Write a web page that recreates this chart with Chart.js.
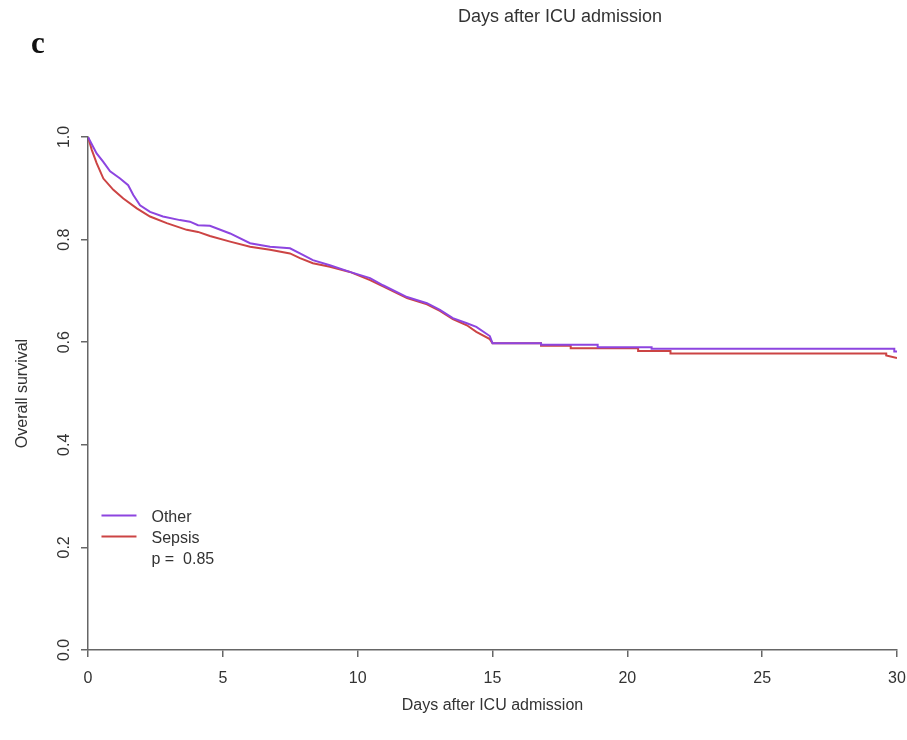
<!DOCTYPE html>
<html lang="en">
<head>
  <meta charset="UTF-8" />
  <title>Overall survival</title>
  <script src="https://cdn.jsdelivr.net/npm/chart.js"></script>
  <style>
    body { margin: 0; background: #fff; }
    #wrap { position: relative; width: 907px; height: 740px; }
    #panel { position: absolute; left: 31px; top: 25px; font: bold 31px "Liberation Serif", serif; color: #111; }
    #topTitle { position: absolute; left: 458px; top: 6px; font: 18px "Liberation Sans", Arial, sans-serif; color: #333; }
    canvas { position: absolute; left: 0; top: 0; }
  </style>
</head>
<body>
<div id="wrap">
  <canvas id="km" width="907" height="740"></canvas>
  <div id="panel">c</div>
  <div id="topTitle">Days after ICU admission</div>
</div>

<script>
  // Kaplan-Meier curves (days, survival)
  const otherDays = [0, 0.32, 0.56, 0.82, 1.19, 1.49, 1.68, 1.93, 2.30, 2.78, 3.41, 3.78, 4.08, 4.52, 5.27, 6.01, 6.75, 7.49, 7.86, 8.34,
    8.97, 9.71, 10.46, 10.94, 11.83, 12.57, 13.05, 13.53, 14.05, 14.4, 14.9, 15.0, 16.8, 16.8, 18.9, 18.9, 20.9, 20.9, 29.9, 29.9, 30];
  const otherSurv = [1.0, 0.968, 0.952, 0.933, 0.919, 0.906, 0.887, 0.867, 0.854, 0.845, 0.838, 0.835, 0.828, 0.827, 0.812, 0.793, 0.786, 0.783, 0.773, 0.760,
    0.750, 0.737, 0.725, 0.711, 0.688, 0.676, 0.663, 0.647, 0.637, 0.630, 0.612, 0.598, 0.598, 0.595, 0.595, 0.590, 0.590, 0.587, 0.587, 0.582, 0.582];

  const sepsisDays = [0, 0.14, 0.32, 0.57, 0.94, 1.31, 1.81, 2.30, 2.92, 3.66, 4.08, 4.52, 5.27, 6.01, 6.75, 7.49, 7.86, 8.34, 8.97, 9.71,
    10.46, 10.94, 11.83, 12.57, 13.05, 13.53, 14.05, 14.4, 14.9, 15.0, 16.8, 16.8, 17.9, 17.9, 20.4, 20.4, 21.6, 21.6, 29.6, 29.6, 30];
  const sepsisSurv = [1.0, 0.975, 0.949, 0.919, 0.897, 0.880, 0.861, 0.845, 0.832, 0.819, 0.815, 0.807, 0.796, 0.786, 0.780, 0.773, 0.764, 0.754, 0.747, 0.737,
    0.721, 0.709, 0.686, 0.674, 0.661, 0.645, 0.633, 0.620, 0.606, 0.598, 0.598, 0.593, 0.593, 0.588, 0.588, 0.583, 0.583, 0.578, 0.578, 0.574, 0.569];

  const groupNames = ["Other", "Sepsis"];
  const groupColors = ["#8d45e0", "#cc4444"];
  const pValueText = "p =  0.85";

  const xTicks = [0, 5, 10, 15, 20, 25, 30];
  const yTicks = [0.0, 0.2, 0.4, 0.6, 0.8, 1.0];

  const axisColor = "#666";
  const textColor = "#333";
  const fontFamily = "'Liberation Sans', Arial, sans-serif";
  const font = { family: fontFamily, size: 16 };

  function toPoints(days, surv) {
    return days.map((d, i) => ({ x: d, y: surv[i] }));
  }

  // legend drawn inside the plot like R's legend()
  const legendInside = {
    id: "legendInside",
    afterDraw(chart) {
      const ctx = chart.ctx;
      const x0 = chart.scales.x.getPixelForValue(0.5);
      const y0 = chart.scales.y.getPixelForValue(0.262);
      const gap = 21;
      ctx.save();
      ctx.font = `16px ${fontFamily}`;
      ctx.textBaseline = "middle";
      ctx.fillStyle = textColor;
      groupNames.forEach((name, i) => {
        const y = y0 + i * gap;
        ctx.strokeStyle = groupColors[i];
        ctx.lineWidth = 2;
        ctx.beginPath();
        ctx.moveTo(x0, y);
        ctx.lineTo(x0 + 35, y);
        ctx.stroke();
        ctx.fillText(name, x0 + 50, y + 2);
      });
      ctx.fillText(pValueText, x0 + 50, y0 + 2 * gap + 2);
      ctx.restore();
    }
  };

  new Chart(document.getElementById("km"), {
    type: "line",
    data: {
      datasets: [
        {
          label: groupNames[0],
          data: toPoints(otherDays, otherSurv),
          borderColor: groupColors[0],
          borderWidth: 2,
          pointRadius: 0,
          tension: 0
        },
        {
          label: groupNames[1],
          data: toPoints(sepsisDays, sepsisSurv),
          borderColor: groupColors[1],
          borderWidth: 2,
          pointRadius: 0,
          tension: 0
        }
      ]
    },
    options: {
      responsive: false,
      animation: false,
      devicePixelRatio: 1,
      layout: { padding: { left: 0, right: 10, top: 137, bottom: 0 } },
      plugins: {
        legend: { display: false },
        tooltip: { enabled: false }
      },
      scales: {
        x: {
          type: "linear",
          min: 0,
          max: 30,
          afterFit: s => { s.height = 90; s.paddingLeft = 0; s.paddingRight = 0; },
          afterBuildTicks: s => { s.ticks = xTicks.map(v => ({ value: v })); },
          grid: { drawOnChartArea: false, drawTicks: true, tickLength: 7, color: axisColor, lineWidth: 1.5 },
          border: { display: true, color: axisColor, width: 1.5 },
          ticks: { color: textColor, font: font, padding: 12, maxRotation: 0 },
          title: { display: true, text: "Days after ICU admission", color: textColor, font: font, padding: { top: 0, bottom: 25 } }
        },
        y: {
          min: 0,
          max: 1,
          afterFit: s => { s.width = 88; s.paddingTop = 0; s.paddingBottom = 0; },
          afterBuildTicks: s => { s.ticks = yTicks.map(v => ({ value: v })); },
          grid: { drawOnChartArea: false, drawTicks: true, tickLength: 7, color: axisColor, lineWidth: 1.5 },
          border: { display: true, color: axisColor, width: 1.5 },
          ticks: {
            color: textColor,
            font: font,
            padding: 5,
            minRotation: 90,
            maxRotation: 90,
            crossAlign: "center",
            callback: v => Number(v).toFixed(1)
          },
          title: { display: true, text: "Overall survival", color: textColor, font: font, padding: { top: 13, bottom: 0 } }
        }
      }
    },
    plugins: [legendInside]
  });
</script>
</body>
</html>
